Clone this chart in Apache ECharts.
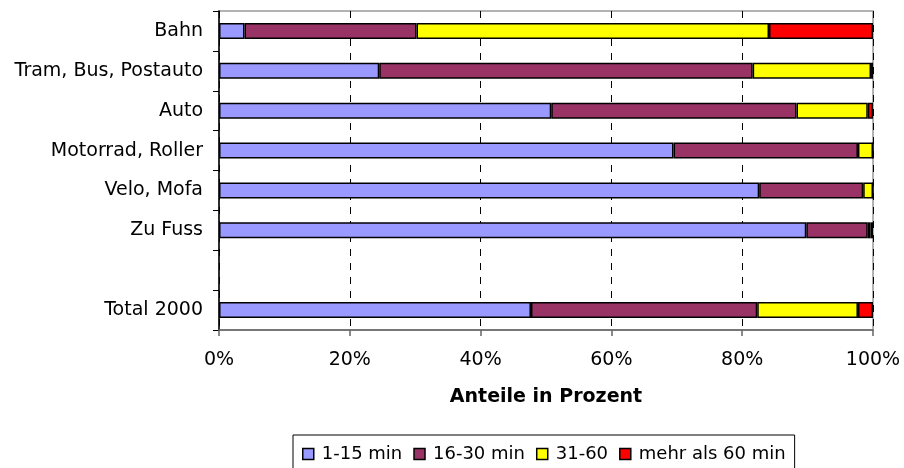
<!DOCTYPE html>
<html>
<head>
<meta charset="utf-8">
<script src="https://cdn.jsdelivr.net/npm/echarts@6/dist/echarts.min.js"></script>
<style>
  html, body { margin: 0; padding: 0; background: #fff; }
  #chart { width: 904px; height: 468px; }
</style>
</head>
<body>
<div id="chart"></div>
<script>
// Verkehrsmittel (top to bottom), one blank row before the total
const categories = ['Bahn', 'Tram, Bus, Postauto', 'Auto', 'Motorrad, Roller', 'Velo, Mofa', 'Zu Fuss', '', 'Total 2000'];

// Shares of travel time classes, in percent
const min1to15   = [3.9, 24.5, 50.8, 69.5, 82.6, 89.8, null, 47.7];
const min16to30  = [26.3, 57.1, 37.5, 28.2, 15.9, 9.4, null, 34.6];
const min31to60  = [53.9, 18.1, 10.9, 2.3, 1.5, 0.4, null, 15.4];
const minOver60  = [15.9, 0.3, 0.8, 0.0, 0.0, 0.4, null, 2.3];

const xTicks = [0, 20, 40, 60, 80, 100];

const seriesDefs = [
  { name: '1-15 min', data: min1to15, color: '#9999FF' },
  { name: '16-30 min', data: min16to30, color: '#993366' },
  { name: '31-60', data: min31to60, color: '#FFFF00' },
  { name: 'mehr als 60 min', data: minOver60, color: '#FF0000' }
];

const FONT = 'DejaVu Sans';
const FS = 19;

const chart = echarts.init(document.getElementById('chart'), null, { renderer: 'canvas' });

chart.setOption({
  animation: false,
  textStyle: { fontFamily: FONT, color: '#000' },
  grid: { left: 219, right: 31, top: 11, bottom: 138, show: true, borderColor: '#999', borderWidth: 1.5 },
  legend: {
    top: 435,
    left: 293,
    orient: 'horizontal',
    borderColor: '#000',
    borderWidth: 1,
    padding: [10, 9, 10, 9],
    itemWidth: 11,
    itemHeight: 11,
    itemGap: 11,
    icon: 'rect',
    textStyle: { fontFamily: FONT, fontSize: 18, color: '#000', padding: [0, 0, 0, 3] },
    data: seriesDefs.map(s => ({ name: s.name, itemStyle: { borderColor: '#000', borderWidth: 1.5 } }))
  },
  xAxis: {
    type: 'value',
    min: xTicks[0],
    max: xTicks[xTicks.length - 1],
    interval: xTicks[1] - xTicks[0],
    name: 'Anteile in Prozent',
    nameLocation: 'middle',
    nameGap: 58,
    nameTextStyle: { fontFamily: FONT, fontSize: FS, fontWeight: 'bold', color: '#000' },
    axisLine: { show: true, lineStyle: { color: '#666', width: 1.5 } },
    axisTick: { show: true, length: 6, lineStyle: { color: '#666', width: 1.5 } },
    axisLabel: { formatter: '{value}%', fontFamily: FONT, fontSize: FS, color: '#000', margin: 21 },
    splitLine: { show: true, lineStyle: { color: '#000', type: [7, 7], width: 1 } }
  },
  yAxis: {
    type: 'category',
    inverse: true,
    data: categories,
    axisLine: { show: true, lineStyle: { color: '#000', width: 1.5 } },
    axisTick: { show: true, length: 6, inside: false, lineStyle: { color: '#000', width: 1 } },
    axisLabel: { fontFamily: FONT, fontSize: FS, color: '#000', margin: 16 },
    splitLine: { show: false }
  },
  series: seriesDefs.map(s => ({
    name: s.name,
    type: 'bar',
    stack: 'total',
    barWidth: 16,
    data: s.data,
    itemStyle: { color: s.color, borderColor: '#000', borderWidth: 1.5 },
    emphasis: { disabled: true }
  }))
});
</script>
</body>
</html>
